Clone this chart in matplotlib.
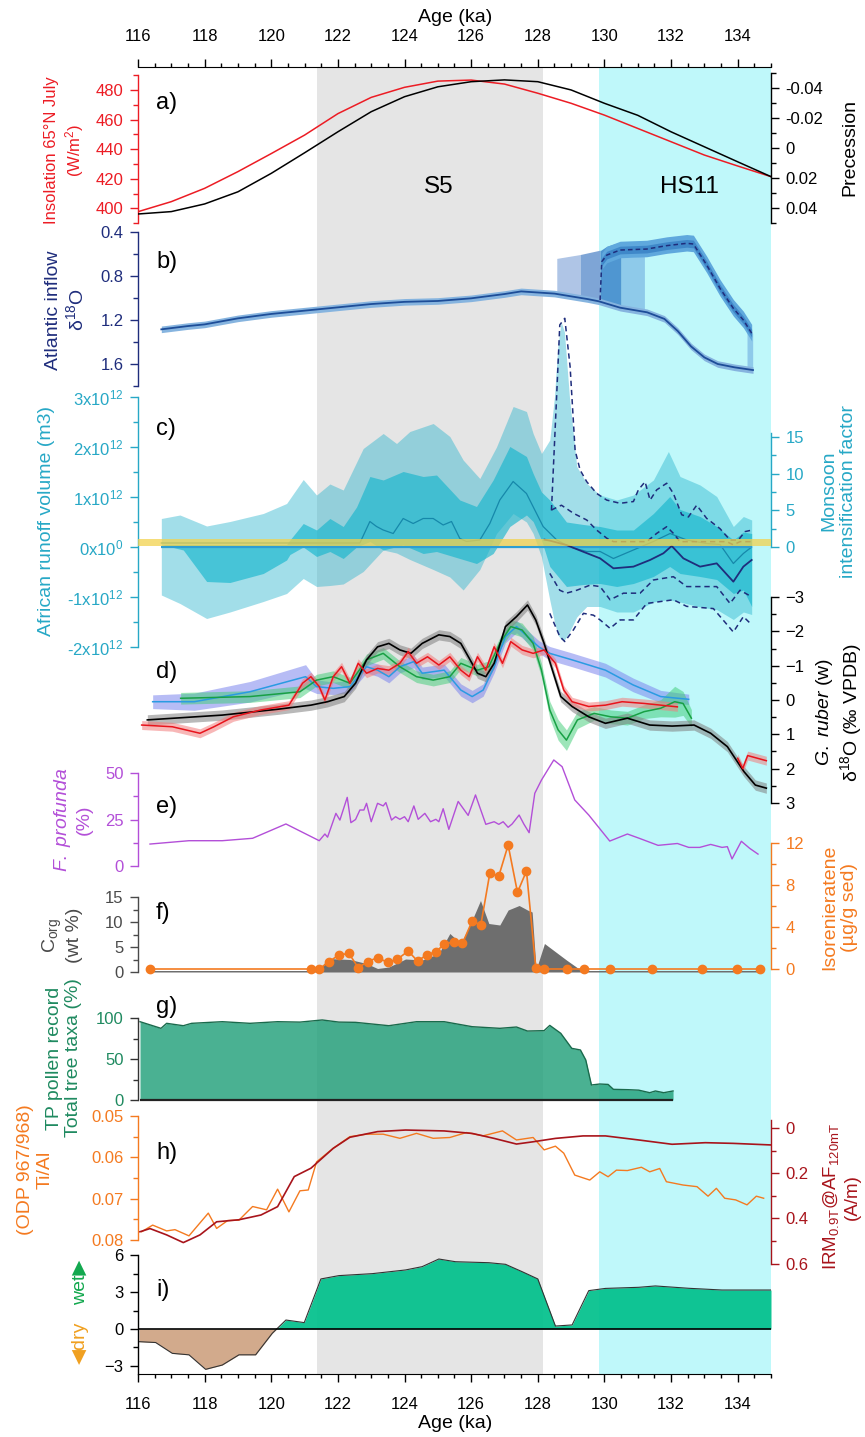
import numpy as np
import matplotlib
matplotlib.use("Agg")
import matplotlib.pyplot as plt

plt.rcParams['font.family'] = ['Liberation Sans', 'DejaVu Sans']
plt.rcParams['mathtext.fontset'] = 'custom'
plt.rcParams['mathtext.rm'] = 'Liberation Sans'
plt.rcParams['mathtext.it'] = 'Liberation Sans:italic'
plt.rcParams['mathtext.bf'] = 'Liberation Sans:bold'
plt.rcParams['mathtext.sf'] = 'Liberation Sans'

# ---------------- data ----------------
AGE_TICKS = [116, 118, 120, 122, 124, 126, 128, 130, 132, 134]
S5_BAND = (121.37, 128.17)
HS11_BAND = (129.84, 135.0)

# a) insolation / precession
a_age = [116, 117, 118, 119, 120, 121, 122, 123, 124, 125, 126, 127, 128, 129, 130, 131, 132, 133, 134, 135]
insol = [397.7, 404.5, 413.5, 424.8, 437, 449.5, 464, 475, 481.8, 486, 486.7, 484, 477.8, 471, 463, 454, 445, 436, 428.6, 421.4]
precession = [0.0438, 0.0422, 0.0371, 0.029, 0.0167, 0.003, -0.011, -0.0244, -0.0344, -0.041, -0.0444,
              -0.0456, -0.0444, -0.0389, -0.030, -0.022, -0.011, -0.001, 0.009, 0.0189]

# b) Atlantic inflow d18O
b_age = [116.7, 117.5, 118, 119, 120, 121, 121.5, 122, 123, 124, 125, 126, 127, 127.5, 128, 128.5, 129,
         129.5, 129.83, 130.47, 131.28, 131.8, 132.2, 132.6, 133.0, 133.4, 133.9, 134.46]
b_val = [1.285, 1.255, 1.24, 1.185, 1.145, 1.115, 1.10, 1.085, 1.055, 1.035, 1.027, 1.003, 0.964, 0.94,
         0.95, 0.96, 0.985, 1.01, 1.03, 1.088, 1.13, 1.19, 1.30, 1.44, 1.54, 1.60, 1.63, 1.655]
bd_age = [129.87, 129.92, 130.07, 130.47, 131.27, 131.87, 132.47, 132.67, 133.07, 133.47, 133.87, 134.17, 134.42]
bd_val = [1.018, 0.67, 0.61, 0.564, 0.555, 0.524, 0.503, 0.509, 0.70, 0.912, 1.094, 1.2, 1.32]
b_fill1 = ([128.57, 129.27], [0.64, 0.605], [0.96, 0.985])
b_fill2 = ([129.27, 129.87], [0.605, 0.565], [0.985, 1.03])
b_fill3 = ([129.87, 130.07, 130.5], [0.57, 0.53, 0.49], [1.03, 1.05, 1.09])
b_fill4 = ([130.5, 131.2], [0.63, 0.62], [1.09, 1.13])
b_fill5 = ([134.28, 134.45], [1.27, 1.32], [1.65, 1.655])

# c) African runoff (x1e12 m3) and monsoon intensification factor
cl_age = [116.7, 117.26, 118.06, 118.76, 119.76, 120.46, 120.96, 121.36, 121.76, 122.16, 122.76, 123.36,
          123.76, 124.16, 124.86, 125.36, 125.76, 126.26, 126.76, 127.26, 127.66, 127.86, 128.11, 128.36,
          128.5, 128.6, 128.7, 128.8, 128.95, 129.17, 129.47, 129.87, 130.37, 130.87, 131.47, 131.92,
          132.27, 132.87, 133.37, 133.87, 134.17, 134.42]
cl_hi = [0.57, 0.64, 0.42, 0.51, 0.67, 0.87, 1.35, 1.04, 1.26, 1.14, 1.97, 2.27, 2.07, 2.31, 2.47, 2.21,
         1.74, 1.37, 2.0, 2.81, 2.71, 2.27, 1.87, 2.14, 3.0, 4.0, 4.5, 4.3, 3.0, 1.61, 1.27, 1.04, 0.94,
         1.04, 1.34, 1.91, 1.41, 1.24, 1.01, 0.41, 0.61, 0.54]
cl_lo = [-0.96, -1.13, -1.43, -1.3, -1.09, -0.93, -0.63, -0.79, -0.77, -0.74, -0.49, -0.06, -0.12, -0.25,
         -0.45, -0.6, -0.86, -0.45, 0.27, 0.67, 0.5, 0.27, -0.2, -1.06, -1.5, -1.75, -1.85, -1.86, -1.7,
         -1.4, -1.19, -1.19, -1.3, -1.3, -1.1, -1.05, -1.1, -1.2, -1.25, -1.45, -1.3, -1.35]
cm_age = [116.7, 117.36, 118.06, 118.76, 119.76, 120.46, 120.56, 120.96, 121.36, 121.76, 122.16, 122.56,
          122.96, 123.36, 123.96, 124.56, 124.96, 125.66, 126.16, 126.66, 127.16, 127.66, 127.86, 128.11,
          128.36, 128.86, 129.37, 129.87, 130.37, 130.87, 131.47, 131.96, 132.27, 132.87, 133.37, 133.87,
          134.17, 134.42]
cm_hi = [0.05, 0.05, 0.05, 0.05, 0.05, 0.05, 0.14, 0.47, 0.34, 0.57, 0.41, 0.8, 1.41, 1.34, 1.51, 1.41,
         1.44, 0.94, 0.81, 1.34, 2.01, 1.81, 1.47, 1.1, 0.94, 0.5, 0.45, 0.41, 0.34, 0.34, 0.67, 1.01,
         0.75, 0.61, 0.41, 0.14, 0.3, 0.27]
cm_lo = [0.05, -0.06, -0.69, -0.71, -0.53, -0.26, -0.15, 0.0, -0.19, -0.09, -0.23, 0.0, 0.11, -0.06,
         0.04, -0.13, -0.09, -0.23, -0.33, -0.13, 0.41, 0.64, 0.51, 0.14, -0.39, -0.79, -0.75, -0.73,
         -0.79, -0.73, -0.59, -0.39, -0.53, -0.59, -0.65, -0.93, -0.86, -1.19]
ct_age = [116.7, 122.66, 122.96, 123.16, 123.36, 123.66, 123.96, 124.26, 124.56, 124.86, 125.16, 125.41,
          125.66, 125.86, 126.26, 126.56, 126.86, 127.26, 127.66, 128.16, 128.57, 128.97, 129.47, 129.87,
          130.27, 130.87, 131.47, 131.97, 132.47, 133.07, 133.47, 133.87, 134.17, 134.42]
ct_val = [0.08, 0.08, 0.51, 0.41, 0.34, 0.27, 0.57, 0.47, 0.57, 0.57, 0.44, 0.51, 0.17, 0.11, 0.14, 0.47,
          0.94, 1.31, 1.07, 0.41, 0.14, 0.0, -0.09, -0.09, -0.23, -0.06, 0.11, 0.27, 0.14, 0.07, 0.05,
          -0.33, -0.13, 0.0]
mon_age = [128.2, 128.36, 128.86, 129.36, 129.87, 130.27, 130.87, 131.37, 131.77, 132.02, 132.37, 132.87,
           133.37, 133.87, 134.17, 134.42]
mon_val = [1.0, 0.87, 0.27, -0.64, -1.55, -2.91, -2.68, -1.77, -0.86, 0.14, -1.55, -2.68, -2.23, -4.73,
           -2.68, -1.77]
monA_age = [128.41, 128.56, 128.66, 128.81, 128.97, 129.12, 129.27, 129.47, 129.77, 130.07, 130.47, 130.87,
            131.02, 131.22, 131.37, 131.57, 131.87, 132.07, 132.32, 132.52, 132.77, 133.07, 133.47, 133.77,
            134.02, 134.22, 134.42]
monA_val = [5.0, 20, 30.3, 31.2, 24.6, 13.2, 10.5, 8.9, 7.3, 6.4, 5.96, 6.2, 7.8, 8.9, 6.4, 7.8, 8.7, 7.3,
            4.4, 4.1, 5.7, 3.9, 2.5, 0.95, 0.95, 2.1, 2.3]
monB_age = [128.41, 128.71, 129.07, 129.47, 129.77, 130.07, 130.27, 131.27, 131.57, 131.87, 132.07, 132.27,
            133.67, 133.87, 134.07, 134.42]
monB_val = [5.05, 5.7, 4.6, 3.68, 2.3, 1.2, 0.73, 0.73, 1.86, 2.77, 1.86, 0.73, 0.73, 0.3, 0.73, 0.73]
monC_age = [128.36, 128.66, 128.86, 129.17, 129.57, 129.87, 130.17, 130.57, 131.07, 131.47, 132.07, 132.47,
            132.87, 133.37, 133.77, 134.07, 134.42]
monC_val = [-3.6, -5.9, -6.3, -5.9, -5.2, -5.4, -7.2, -6.3, -6.3, -4.5, -4.05, -5.4, -5.4, -5.4, -7.7,
            -5.9, -6.8]
monD_age = [128.36, 128.66, 128.81, 129.07, 129.37, 129.67, 129.87, 130.17, 130.47, 130.87, 131.27, 132.07,
            132.47, 133.27, 133.87, 134.17, 134.42]
monD_val = [-9.05, -12.2, -12.9, -11.3, -9.05, -9.3, -9.95, -11.1, -9.95, -9.95, -7.7, -7.2, -8.1, -8.4,
            -11.6, -9.5, -10.6]
MONSOON_REF = (0.15, 1.1)

# d) G. ruber d18O stacks
dk_age = [116.28, 118.53, 120.19, 121.19, 121.69, 122.19, 122.53, 122.86, 123.19, 123.53, 123.86, 124.19,
          124.53, 125.03, 125.36, 125.69, 125.94, 126.19, 126.44, 126.69, 127.03, 127.36, 127.69, 127.94,
          128.19, 128.44, 128.69, 129.03, 129.53, 130.03, 130.69, 131.36, 132.03, 132.69, 133.19, 133.69,
          134.19, 134.53, 134.86]
dk_val = [0.58, 0.44, 0.27, 0.15, 0.05, -0.1, -0.49, -1.17, -1.55, -1.65, -1.46, -1.36, -1.65, -1.9, -1.85,
          -1.65, -1.22, -0.78, -0.68, -1.07, -2.14, -2.43, -2.77, -2.33, -1.65, -0.87, -0.1, 0.19, 0.49,
          0.68, 0.53, 0.73, 0.76, 0.73, 0.97, 1.36, 2.09, 2.48, 2.57]
dr_age = [116.11, 117.03, 117.86, 118.28, 118.86, 119.69, 120.53, 120.94, 121.19, 121.44, 121.61, 121.86,
          122.11, 122.36, 122.61, 122.86, 123.19, 123.53, 123.86, 124.11, 124.36, 124.69, 125.03, 125.36,
          125.69, 125.94, 126.19, 126.44, 126.69, 126.94, 127.19, 127.53, 127.86, 128.19, 128.53, 128.78,
          129.03, 129.53, 130.03, 130.53, 131.19, 132.19]
dr_val = [0.73, 0.78, 0.97, 0.78, 0.49, 0.29, 0.15, -0.49, -0.68, -0.39, 0.0, -0.68, -0.97, -0.49, -1.07,
          -0.78, -0.92, -0.87, -1.07, -1.41, -1.07, -1.26, -1.02, -1.26, -0.87, -0.68, -1.26, -0.87, -1.55,
          -1.07, -1.7, -1.46, -1.36, -1.46, -1.07, -0.29, 0.05, 0.19, 0.15, 0.05, 0.1, 0.2]
dr2_age = [134.0, 134.15, 134.3, 134.86]
dr2_val = [1.7, 2.0, 1.62, 1.77]
dg_age = [117.28, 119.36, 120.86, 121.36, 121.86, 122.36, 122.86, 123.36, 123.86, 124.36, 124.86, 125.36,
          125.69, 126.19, 126.53, 126.86, 127.19, 127.53, 127.86, 128.11, 128.36, 128.61, 128.86, 129.19,
          129.69, 130.19, 130.69, 131.19, 131.69, 132.11, 132.36, 132.61]
dg_val = [-0.05, -0.1, -0.24, -0.58, -0.68, -0.49, -1.17, -1.36, -0.97, -0.68, -0.58, -0.68, -1.07, -0.87,
          -0.97, -1.65, -2.14, -2.04, -1.65, -0.87, 0.29, 0.87, 1.17, 0.58, 0.39, 0.49, 0.53, 0.34, 0.24,
          0.05, 0.1, 0.53]
dg_err = [0.17, 0.17, 0.17, 0.17, 0.17, 0.17, 0.17, 0.17, 0.17, 0.17, 0.17, 0.17, 0.17, 0.17, 0.17, 0.17,
          0.2, 0.2, 0.2, 0.2, 0.25, 0.3, 0.3, 0.25, 0.2, 0.2, 0.2, 0.2, 0.25, 0.45, 0.35, 0.25]
db_age = [116.44, 117.69, 119.36, 121.03, 121.36, 121.86, 122.36, 122.86, 123.19, 123.53, 123.86, 124.28,
          124.53, 125.19, 125.69, 126.03, 126.36, 126.69, 127.03, 127.36, 127.69, 128.03, 128.36, 129.03,
          130.03, 130.86, 131.69, 132.53]
db_val = [0.05, 0.05, -0.24, -0.68, -0.39, -0.34, -0.39, -0.97, -0.87, -0.68, -0.97, -1.12, -0.78, -0.87,
          -0.29, -0.1, -0.29, -0.97, -1.85, -2.14, -1.85, -1.55, -1.36, -1.17, -0.87, -0.44, -0.1, -0.02]
db_err = [0.2, 0.25, 0.3, 0.35, 0.2, 0.18, 0.18, 0.18, 0.18, 0.18, 0.18, 0.18, 0.18, 0.18, 0.18, 0.18,
          0.18, 0.18, 0.18, 0.18, 0.18, 0.18, 0.2, 0.2, 0.2, 0.2, 0.18, 0.15]
dk_err = 0.15
dr_err = 0.13

# e) F. profunda (%)
e_age = [116.36, 117.53, 118.53, 119.44, 120.44, 121.44, 121.61, 121.69, 121.94, 122.06, 122.28, 122.39,
         122.53, 122.66, 122.78, 122.86, 123.0, 123.19, 123.36, 123.44, 123.61, 123.73, 123.86, 124.0,
         124.11, 124.28, 124.41, 124.61, 124.78, 124.94, 125.03, 125.16, 125.33, 125.61, 125.91, 126.13,
         126.44, 126.69, 126.83, 126.96, 127.11, 127.23, 127.44, 127.58, 127.74, 127.91, 128.11, 128.48,
         128.73, 129.11, 129.53, 130.16, 130.69, 131.03, 131.61, 132.19, 132.53, 132.86, 133.19, 133.53,
         133.69, 133.83, 134.11, 134.36, 134.61]
e_val = [11.8, 13.6, 13.6, 14.9, 22.6, 13.6, 17.2, 15.5, 28.3, 24.7, 36.9, 23.3, 25, 30.1, 30.1, 33.7,
         23.8, 33.7, 32.3, 34.1, 24.7, 26.5, 25.1, 26.5, 23.8, 32.3, 25.1, 28.3, 23.8, 25.1, 23.8, 30.8,
         19.7, 34.7, 27.2, 38.2, 22.4, 23.8, 22.4, 23.8, 20.8, 22.6, 27.4, 22.6, 17.9, 39.1, 46.2, 57,
         53.4, 35.5, 27.4, 13.4, 17.2, 15, 11.1, 12.1, 10, 10, 11.6, 10, 10.4, 3.8, 13.3, 9.5, 6.4]

# f) Corg (wt %) and isorenieratene (ug/g sed)
corg_age = [116.3, 121.3, 121.44, 121.69, 122.36, 122.86, 123.19, 123.53, 124.03, 124.53, 125.03, 125.36,
            125.69, 126.03, 126.28, 126.53, 126.86, 127.11, 127.44, 127.69, 127.83, 127.95, 128.2, 128.86,
            129.2, 129.53, 134.6]
corg_val = [0.3, 0.3, 0.3, 2.7, 2.5, 1.7, 0.7, 1.0, 2.6, 2.4, 3.7, 7.7, 5.7, 10.4, 14.3, 9.7, 9.4, 12.4,
            13.3, 12.4, 12.0, 0.5, 5.7, 2.4, 0.8, 0.3, 0.3]
iso_age = [116.36, 121.19, 121.44, 121.73, 122.03, 122.33, 122.61, 122.89, 123.19, 123.49, 123.78, 124.11,
           124.39, 124.66, 124.94, 125.19, 125.48, 125.74, 126.03, 126.29, 126.56, 126.83, 127.11, 127.39,
           127.66, 127.94, 128.19, 128.89, 129.39, 130.16, 131.44, 132.94, 133.98, 134.66]
iso_val = [0, 0, 0, 0.7, 1.33, 1.49, 0.13, 0.7, 1.08, 0.63, 0.92, 1.71, 0.76, 1.33, 1.65, 2.35, 2.6, 2.44,
           4.57, 4.19, 9.11, 8.86, 11.8, 7.3, 9.33, 0.1, 0, 0, 0, 0, 0, 0, 0, 0]

# g) TP pollen total tree taxa (%)
g_age = [116.06, 116.69, 116.86, 117.36, 117.61, 118.53, 119.36, 120.19, 120.86, 121.53, 122.03, 122.53,
         123.53, 124.36, 125.19, 126.03, 126.86, 127.36, 127.69, 128.19, 128.36, 128.69, 129.02, 129.28,
         129.44, 129.61, 129.86, 130.11, 130.27, 130.69, 131.03, 131.36, 131.53, 131.78, 132.06]
g_val = [95.5, 87.4, 93.5, 90.6, 93.5, 95.5, 93.5, 95.5, 95, 97.6, 95, 94.7, 90.6, 95.5, 95.5, 89.4, 87.4,
         89, 84.1, 84.6, 91, 81.3, 63, 61, 48.8, 18.3, 19.5, 19, 13, 12.6, 12, 8.9, 11, 8.9, 11]

# h) Ti/Al (ODP 967/968) and IRM
ti_age = [116.11, 116.44, 116.86, 117.11, 117.53, 118.11, 118.36, 118.69, 119.03, 119.44, 119.86, 120.19,
          120.53, 120.86, 121.11, 121.36, 121.86, 122.36, 122.86, 123.36, 123.86, 124.36, 124.86, 125.36,
          125.86, 126.36, 126.94, 127.36, 127.86, 128.19, 128.53, 128.78, 129.11, 129.56, 129.86, 130.11,
          130.36, 130.69, 131.11, 131.36, 131.66, 131.86, 132.36, 132.78, 133.11, 133.36, 133.61, 133.94,
          134.28, 134.56, 134.78]
ti_val = [0.078, 0.0764, 0.0778, 0.0775, 0.079, 0.0735, 0.0772, 0.0753, 0.0752, 0.0719, 0.0727, 0.0677,
          0.0732, 0.0681, 0.0679, 0.0611, 0.0578, 0.055, 0.0544, 0.0544, 0.0554, 0.0542, 0.0554, 0.0552,
          0.054, 0.0548, 0.0536, 0.0558, 0.0552, 0.0582, 0.0573, 0.059, 0.0643, 0.0655, 0.0635, 0.0647,
          0.0631, 0.0632, 0.0624, 0.0635, 0.0627, 0.0659, 0.0667, 0.0671, 0.0694, 0.0675, 0.0699, 0.0703,
          0.0715, 0.0694, 0.0699]
irm_age = [116.06, 116.36, 116.86, 117.36, 117.86, 118.36, 119.03, 119.69, 120.19, 120.69, 121.19, 121.86,
           122.36, 123.19, 124.03, 125.19, 126.03, 126.69, 127.36, 127.86, 128.53, 129.36, 130.03, 131.03,
           132.03, 133.03, 133.86, 135.0]
irm_val = [0.459, 0.445, 0.473, 0.507, 0.473, 0.415, 0.406, 0.385, 0.348, 0.215, 0.178, 0.09, 0.041, 0.016,
           0.009, 0.013, 0.024, 0.046, 0.071, 0.061, 0.046, 0.035, 0.035, 0.053, 0.072, 0.065, 0.068, 0.075]

# i) wet/dry index
i_age = [116.03, 116.53, 117.03, 117.53, 118.03, 118.53, 119.03, 119.53, 120.03, 120.44, 120.99, 121.49,
         122.03, 123.03, 124.03, 124.53, 125.03, 125.53, 126.53, 127.03, 127.53, 128.0, 128.53, 129.03,
         129.53, 130.03, 131.03, 131.53, 132.53, 133.53, 135.0]
i_val = [-1.03, -1.1, -1.98, -2.1, -3.28, -2.93, -2.1, -2.1, -0.35, 0.73, 0.52, 4.07, 4.34, 4.5, 4.8, 5.07,
         5.69, 5.47, 5.39, 5.26, 4.66, 4.07, 0.24, 0.33, 3.12, 3.3, 3.39, 3.5, 3.31, 3.17, 3.17]

# ---------------- layout helpers (pixel based) ----------------
W, H = 865, 1437
XL, XR = 138, 771
fig = plt.figure(figsize=(W / 100, H / 100), dpi=100)


def panel(top, bot, ref_px, ref_val, ppu, inv=False):
    ax = fig.add_axes([XL / W, 1 - bot / H, (XR - XL) / W, (bot - top) / H], zorder=1)
    ax.set_xlim(116, 135)

    def v(p):
        return ref_val + ((p - ref_px) if inv else (ref_px - p)) / ppu
    ax.set_ylim(v(bot), v(top))
    ax.patch.set_visible(False)
    for s in ax.spines.values():
        s.set_visible(False)
    ax.set_xticks([])
    ax.tick_params(axis='y', which='both', left=False, right=False, labelleft=False, labelright=False)
    return ax


def yaxis(ax, side, lo, hi, major, minor, color, labels=None):
    sp = ax.spines[side]
    sp.set_visible(True)
    sp.set_bounds(lo, hi)
    sp.set_color(color)
    sp.set_linewidth(1.0)
    ax.set_yticks(major)
    ax.set_yticks(minor, minor=True)
    if labels is not None:
        ax.set_yticklabels(labels)
    left = side == 'left'
    ax.tick_params(axis='y', which='both', direction='out', colors=color, labelsize=12, width=1.0,
                   left=left, labelleft=left, right=not left, labelright=not left, pad=5)
    ax.tick_params(axis='y', which='major', length=5.5)
    ax.tick_params(axis='y', which='minor', length=3.5)


def ftext(x, y, s, color='black', size=14, rot=90, **kw):
    fig.text(x / W, 1 - y / H, s, color=color, fontsize=size, rotation=rot, ha='center', va='center',
             multialignment='center', **kw)


# ---------------- background: bands and age axes ----------------
bg = fig.add_axes([XL / W, 1 - 1374 / H, (XR - XL) / W, (1374 - 67) / H], zorder=0)
bg.set_xlim(116, 135)
bg.set_ylim(0, 1)
bg.axvspan(*S5_BAND, color='#e5e5e5', lw=0)
bg.axvspan(*HS11_BAND, color='#bff8fa', lw=0)
bg.spines['left'].set_visible(False)
bg.spines['right'].set_visible(False)
bg.set_yticks([])
bg.set_xticks(AGE_TICKS)
bg.set_xticks(np.arange(116, 135.01, 0.5), minor=True)
bg.tick_params(axis='x', which='both', direction='out', top=True, bottom=True, labeltop=True,
               labelbottom=True, labelsize=12, width=1.0, pad=11)
bg.tick_params(axis='x', which='major', length=5.5)
bg.tick_params(axis='x', which='minor', length=3)

# ---------------- a) ----------------
RED = '#ec1c24'
ax_a = panel(70, 228, 208.3, 400, 1.479)
ax_a.plot(a_age, insol, color=RED, lw=1.1)
yaxis(ax_a, 'left', 390, 490, [400, 420, 440, 460, 480], np.arange(390, 491, 10), RED)
ax_a2 = panel(70, 228, 148.3, 0, 1500, inv=True)
ax_a2.plot(a_age, precession, color='black', lw=1.1)
yaxis(ax_a2, 'right', -0.05, 0.05, [-0.04, -0.02, 0, 0.02, 0.04], np.arange(-0.05, 0.051, 0.01), 'black',
      ['-0.04', '-0.02', '0', '0.02', '0.04'])

# ---------------- b) ----------------
NAVY = '#1f2d7c'
ax_b = panel(226, 388, 232, 0.4, 110, inv=True)
for (fx_, ft_, fb_), col in [(b_fill1, '#afc5e6'), (b_fill2, '#7ea5d6'), (b_fill3, '#4f96d1'),
                             (b_fill4, '#8ecaea'), (b_fill5, '#8ecaea')]:
    ax_b.fill_between(fx_, ft_, fb_, color=col, lw=0)
bd_a = np.array(bd_age[1:])
bd_v = np.array(bd_val[1:])
ax_b.fill_between(bd_a, bd_v - 0.08, bd_v + 0.07, color='#5fa8dd', lw=0)
ax_b.fill_between(bd_a, bd_v - 0.035, bd_v + 0.035, color='#3f88c9', lw=0)
ax_b.plot(bd_age, bd_val, color=NAVY, lw=1.1, ls=(0, (3, 2)))
bv = np.array(b_val)
ax_b.fill_between(b_age, bv - 0.03, bv + 0.03, color='#86b4df', lw=0)
ax_b.plot(b_age, b_val, color='#1d4d98', lw=1.3)
yaxis(ax_b, 'left', 0.4, 1.8, [0.4, 0.8, 1.2, 1.6], [0.6, 1.0, 1.4, 1.8], NAVY,
      ['0.4', '0.8', '1.2', '1.6'])

# ---------------- c) ----------------
TEAL = '#27a8c6'
ax_c = panel(300, 662, 547, 0, 50)
ax_c.fill_between(cl_age, cl_lo, cl_hi, color='#22b2cc', alpha=0.42, lw=0)
ax_c.fill_between(cm_age, cm_lo, cm_hi, color='#10b4cc', alpha=0.62, lw=0)
ax_c.plot(ct_age, ct_val, color='#1688aa', lw=0.9)
ax_c.hlines(0, ct_age[0], ct_age[-1], color='#2e9ed2', lw=1.6)
yaxis(ax_c, 'left', -2, 3, [-2, -1, 0, 1, 2, 3], np.arange(-2, 3.01, 0.5), TEAL,
      ['-2x10$^{12}$', '-1x10$^{12}$', '0x10$^{0}$', '1x10$^{12}$', '2x10$^{12}$', '3x10$^{12}$'])
ax_c2 = panel(300, 662, 547, 0, 7.33)
for age_, val_ in [(monA_age, monA_val), (monB_age, monB_val), (monC_age, monC_val), (monD_age, monD_val)]:
    ax_c2.plot(age_, val_, color=NAVY, lw=1.1, ls=(0, (3.5, 2.5)))
ax_c2.plot(mon_age, mon_val, color=NAVY, lw=1.3)
ax_c2.axhspan(*MONSOON_REF, color='#f2d24e', alpha=0.75, lw=0, zorder=10)
yaxis(ax_c2, 'right', 0, 15.6, [0, 5, 10, 15], [2.5, 7.5, 12.5], TEAL)

# ---------------- d) ----------------
ax_d = panel(585, 815, 700, 0, 34.3, inv=True)
dbv, dbe = np.array(db_val), np.array(db_err)
ax_d.fill_between(db_age, dbv - dbe, dbv + dbe, color='#7d86ee', alpha=0.55, lw=0)
ax_d.plot(db_age, db_val, color='#2a9be2', lw=1.1)
dgv, dge = np.array(dg_val), np.array(dg_err)
ax_d.fill_between(dg_age, dgv - dge, dgv + dge, color='#3ccc74', alpha=0.5, lw=0)
ax_d.plot(dg_age, dg_val, color='#18a044', lw=1.1)
dkv = np.array(dk_val)
ax_d.fill_between(dk_age, dkv - dk_err, dkv + dk_err, color='#808080', alpha=0.55, lw=0)
ax_d.plot(dk_age, dk_val, color='black', lw=1.2)
drv = np.array(dr_val)
ax_d.fill_between(dr_age, drv - dr_err, drv + dr_err, color='#f27c7c', alpha=0.55, lw=0)
ax_d.plot(dr_age, dr_val, color='#e8141c', lw=1.1)
dr2v = np.array(dr2_val)
ax_d.fill_between(dr2_age, dr2v - dr_err, dr2v + dr_err, color='#f27c7c', alpha=0.55, lw=0)
ax_d.plot(dr2_age, dr2_val, color='#e8141c', lw=1.1)
yaxis(ax_d, 'right', -3, 3, [-3, -2, -1, 0, 1, 2, 3], np.arange(-3, 3.01, 0.5), 'black')

# ---------------- e) ----------------
PURPLE = '#b34fd8'
ax_e = panel(750, 875, 866, 0, 1.86)
ax_e.plot(e_age, e_val, color=PURPLE, lw=1.0)
yaxis(ax_e, 'left', 0, 50, [0, 25, 50], [12.5, 37.5], PURPLE)

# ---------------- f) ----------------
ORANGE = '#f47a20'
ax_f = panel(880, 982, 972, 0, 5)
ax_f.fill_between(corg_age, 0, corg_val, color='#6e6e6e', lw=0)
yaxis(ax_f, 'left', 0, 15, [0, 5, 10, 15], [2.5, 7.5, 12.5], '#4a4a4a')
ax_f2 = panel(835, 982, 969, 0, 10.5)
ax_f2.plot(iso_age, iso_val, color=ORANGE, lw=1.2, marker='o', ms=6, mec=ORANGE, mfc=ORANGE)
yaxis(ax_f2, 'right', 0, 12, [0, 4, 8, 12], [2, 6, 10], ORANGE)

# ---------------- g) ----------------
GREEN = '#1f8a60'
ax_g = panel(995, 1104, 1100, 0, 0.82)
ax_g.fill_between(g_age, 0, g_val, color='#22a07a', alpha=0.82, lw=0)
ax_g.plot(g_age, g_val, color='#1a6a4c', lw=1.0)
ax_g.hlines(0, g_age[0], g_age[-1], color='#222222', lw=1.6)
yaxis(ax_g, 'left', 0, 100, [0, 50, 100], [25, 75], '#333333')
ax_g.tick_params(axis='y', labelcolor=GREEN)

# ---------------- h) ----------------
DRED = '#a8141b'
ax_h = panel(1100, 1270, 1116, 0.05, 4133, inv=True)
ax_h.plot(ti_age, ti_val, color=ORANGE, lw=1.0)
yaxis(ax_h, 'left', 0.05, 0.08, [0.05, 0.06, 0.07, 0.08], [0.055, 0.065, 0.075], ORANGE,
      ['0.05', '0.06', '0.07', '0.08'])
ax_h2 = panel(1100, 1270, 1128, 0, 226, inv=True)
ax_h2.plot(irm_age, irm_val, color=DRED, lw=1.2)
yaxis(ax_h2, 'right', -0.035, 0.6, [0, 0.2, 0.4, 0.6], [0.1, 0.3, 0.5], DRED, ['0', '0.2', '0.4', '0.6'])

# ---------------- i) ----------------
ax_i = panel(1240, 1374, 1329, 0, 12.3)
iv = np.array(i_val)
ax_i.fill_between(i_age, 0, iv, where=iv >= 0, interpolate=True, color='#00c08b', alpha=0.92, lw=0)
ax_i.fill_between(i_age, 0, iv, where=iv <= 0, interpolate=True, color='#d2aa8c', lw=0)
ax_i.plot(i_age, i_val, color='#333333', lw=0.8)
ax_i.axhline(0, color='black', lw=1.2)
yaxis(ax_i, 'left', (1329 - 1374) / 12.3, 6, [-3, 0, 3, 6], [-1.5, 1.5, 4.5], 'black')

# ---------------- texts ----------------
ftext(455, 18, 'Age (ka)', rot=0)
ftext(455, 1424, 'Age (ka)', rot=0)
for letter, y in [('a)', 103), ('b)', 262), ('c)', 429), ('d)', 672), ('e)', 807), ('f)', 913),
                  ('g)', 1007), ('h)', 1153), ('i)', 1290)]:
    fig.text(156 / W, 1 - y / H, letter, fontsize=17, ha='left', va='center')
ftext(439, 187, 'S5', size=17.5, rot=0)
ftext(689, 187, 'HS11', size=17.5, rot=0)

ftext(65, 150, 'Insolation 65°N July\n(W/m$^2$)', RED, size=12)
ftext(850, 148, 'Precession')
ftext(66, 310, 'Atlantic inflow\nδ$^{18}$O', NAVY)
ftext(47, 521, 'African runoff volume (m3)', TEAL)
ftext(839, 491, 'Monsoon\nintensification factor', TEAL)
ftext(839, 712, r'$\mathit{G.\ ruber}$ (w)' + '\n' + 'δ$^{18}$O (‰ VPDB)')
ftext(72, 820, r'$\mathit{F.\ profunda}$' + '\n(%)', PURPLE)
ftext(62, 935, r'C$_{\mathrm{org}}$' + '\n(wt %)', '#4a4a4a')
ftext(840, 907, 'Isorenieratene\n(µg/g sed)', ORANGE)
ftext(64, 1058, 'TP pollen record\nTotal tree taxa (%)', GREEN)
ftext(35, 1170, '(ODP 967/968)\nTi/Al', ORANGE)
ftext(841, 1197, r'IRM$_{\mathrm{0.9T}}$@AF$_{\mathrm{120mT}}$' + '\n(A/m)', DRED, size=13.5)
ftext(80, 1282, 'wet▶', '#12a84e')
ftext(80, 1343, '◀dry', '#f0a020')

fig.savefig('out.png', dpi=100)
